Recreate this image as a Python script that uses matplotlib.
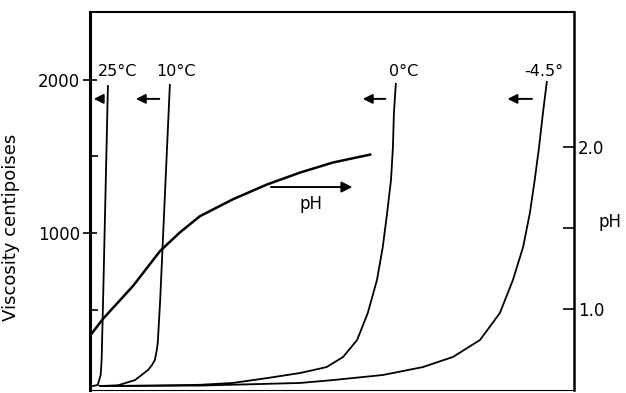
import numpy as np
import matplotlib.pyplot as plt

# viscosity curves (arbitrary horizontal scale, no ticks on x)
x_25 = [0.6, 1.6, 2.2, 2.4, 2.7, 3.7]
v_25 = [0, 7, 72, 170, 560, 1960]

x_10 = [2.0, 5.8, 9.3, 12.0, 12.8, 13.4, 13.8, 14.0, 14.5, 16.5]
v_10 = [0, 5, 39, 105, 137, 170, 235, 281, 562, 1967]

x_0 = [2.07, 12.4, 22.7, 29.5, 36.6, 43.4, 48.9, 52.3, 55.2, 57.4, 59.3, 60.5, 61.4,
       62.2, 62.6, 62.8, 63.2]
v_0 = [0, 3, 8, 20, 52, 85, 124, 190, 301, 477, 693, 908, 1131,
       1346, 1562, 1784, 1974]

x_m45 = [2.07, 22.7, 43.4, 50.2, 60.5, 68.8, 75.0, 80.6, 84.7, 87.4, 89.5, 90.9,
         91.9, 92.8, 93.6, 94.4]
v_m45 = [0, 3, 20, 39, 72, 124, 190, 301, 477, 693, 908, 1131,
         1346, 1562, 1784, 1987]

# pH curve, right hand scale
x_ph = [0, 2.69, 8.88, 14.46, 18.6, 22.7, 29.5, 36.6, 43.4, 50.2, 57.9]
ph = [0.834, 0.939, 1.141, 1.356, 1.472, 1.571, 1.675, 1.767, 1.840, 1.902, 1.951]

temp_labels = ['25°C', '10°C', '0°C', '-4.5°']
label_x = [5.6, 17.8, 64.9, 93.8]
arrow_from = [3.1, 14.9, 61.6, 91.9]
arrow_to = [0.2, 8.9, 55.8, 85.7]

plt.rcParams['font.family'] = 'DejaVu Sans'
fig = plt.figure(figsize=(6.26, 3.93), dpi=100)
ax = fig.add_axes([0.1438, 0.0076, 0.773, 0.962])

lw = 1.3
ax.plot(x_25, v_25, 'k-', lw=lw)
ax.plot(x_10, v_10, 'k-', lw=lw)
ax.plot(x_0, v_0, 'k-', lw=lw)
ax.plot(x_m45, v_m45, 'k-', lw=lw)

ax.set_xlim(0, 100)
ax.set_ylim(-26, 2444)
ax.set_xticks([])
ax.set_yticks([1000, 2000])
ax.set_yticks([500, 1500], minor=True)
ax.tick_params(axis='y', which='major', direction='inout', length=10, width=1.2, labelsize=12, pad=2)
ax.tick_params(axis='y', which='minor', direction='in', length=6, width=1.2)
ax.set_ylabel('Viscosity centipoises', fontsize=13)
ax.yaxis.set_label_coords(-0.145, 0.43)

ax.spines['left'].set_linewidth(2.2)
ax.spines['top'].set_linewidth(1.5)
ax.spines['right'].set_linewidth(1.8)
ax.spines['bottom'].set_linewidth(0.8)

for lab, lx, a0, a1 in zip(temp_labels, label_x, arrow_from, arrow_to):
    ax.text(lx, 2052, lab, ha='center', va='center', fontsize=11.5)
    ax.annotate('', xy=(a1, 1876), xytext=(a0, 1876),
                arrowprops=dict(arrowstyle='-|>', color='k', lw=1.4, mutation_scale=14))

# pH direction arrow
ax.annotate('', xy=(54.8, 1300), xytext=(36.8, 1300),
            arrowprops=dict(arrowstyle='-|>', color='k', lw=1.4, mutation_scale=16))
ax.text(45.7, 1190, 'pH', ha='center', va='center', fontsize=12)

ax2 = ax.twinx()
ax2.plot(x_ph, ph, 'k-', lw=1.8)
ax2.set_ylim(0.5, 2.83)
ax2.set_yticks([1.0, 2.0])
ax2.set_yticks([1.5], minor=True)
ax2.set_yticklabels(['1.0', '2.0'])
ax2.tick_params(axis='y', which='major', direction='in', length=8, width=1.2, labelsize=12, pad=3)
ax2.tick_params(axis='y', which='minor', direction='in', length=8, width=1.2)
ax2.set_ylabel('pH', rotation=0, fontsize=12)
ax2.yaxis.set_label_coords(1.075, 0.468)
for s in ax2.spines.values():
    s.set_visible(False)

fig.savefig('out.png', dpi=100)
